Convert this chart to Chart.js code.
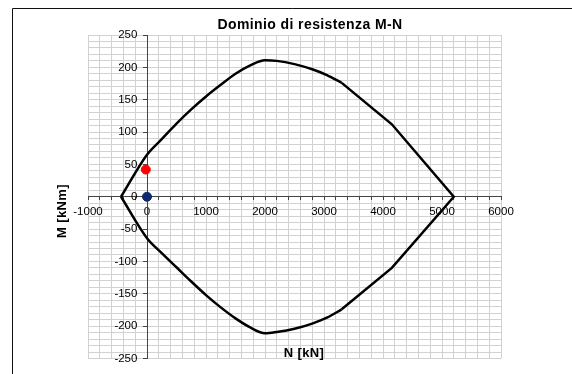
<!DOCTYPE html>
<html>
<head>
<meta charset="utf-8">
<script src="https://cdn.jsdelivr.net/npm/chart.js@4.4.1/dist/chart.umd.min.js"></script>
<style>
  html, body { margin: 0; padding: 0; background: #fff; }
</style>
</head>
<body>
<canvas id="myChart" width="572" height="374"></canvas>
<script>
// M-N interaction domain: two smooth arcs plus the straight right-hand part
const arcN = [-440, 0, 250, 500, 750, 1000, 1250, 1500, 1750, 2000, 2200, 2500, 2800, 3050, 3300];
const upperM = [0, 65, 89, 113, 135, 155, 173, 190, 203, 211, 210, 205, 197, 188, 176];
const lowerM = [0, -64, -87, -109, -131, -152, -171, -188, -202, -211, -209, -204, -196, -187, -174];
const rightN = [3300, 4150, 5200, 4150, 3300];
const rightM = [176, 112, 0, -110, -174];

// design loads
const loadN = [-20];
const loadM = [42];
const originN = [0];
const originM = [0];

const xTicks = [-1000, 0, 1000, 2000, 3000, 4000, 5000, 6000];
const yTicks = [-250, -200, -150, -100, -50, 0, 50, 100, 150, 200, 250];

const FONT = '"Liberation Sans", Arial, sans-serif';
Chart.defaults.font.family = FONT;

const toPoints = (xs, ys) => xs.map((x, i) => ({ x: x, y: ys[i] }));

const curveStyle = {
  showLine: true,
  borderColor: '#000',
  borderWidth: 2.5,
  pointRadius: 0,
  fill: false,
};

const frame = {
  id: 'frame',
  afterDraw(chart) {
    const ctx = chart.ctx;
    ctx.save();
    ctx.strokeStyle = '#111';
    ctx.lineWidth = 1;
    ctx.beginPath();
    ctx.moveTo(12.5, 374);
    ctx.lineTo(12.5, 8.5);
    ctx.lineTo(572, 8.5);
    ctx.stroke();

    ctx.fillStyle = '#000';
    ctx.textAlign = 'center';
    ctx.textBaseline = 'middle';
    ctx.font = 'bold 14px ' + FONT;
    ctx.letterSpacing = '0.4px';
    ctx.fillText('Dominio di resistenza M-N', 310, 25);

    ctx.font = 'bold 13px ' + FONT;
    ctx.fillText('N [kN]', 304, 353);

    ctx.translate(62, 211);
    ctx.rotate(-Math.PI / 2);
    ctx.fillText('M [kNm]', 0, 0);
    ctx.restore();
  },
};

new Chart(document.getElementById('myChart'), {
  type: 'scatter',
  data: {
    datasets: [
      Object.assign({ data: toPoints(arcN, upperM), cubicInterpolationMode: 'monotone' }, curveStyle),
      Object.assign({ data: toPoints(arcN, lowerM), cubicInterpolationMode: 'monotone' }, curveStyle),
      Object.assign({ data: toPoints(rightN, rightM), tension: 0 }, curveStyle),
      {
        data: toPoints(loadN, loadM),
        backgroundColor: '#ff0000',
        borderColor: '#ff0000',
        pointRadius: 4.5,
      },
      {
        data: toPoints(originN, originM),
        backgroundColor: '#0b2a6b',
        borderColor: '#0b2a6b',
        pointRadius: 4.5,
      },
    ],
  },
  options: {
    responsive: false,
    animation: false,
    layout: { padding: { left: 88, top: 35, right: 71, bottom: 15.5 } },
    plugins: {
      legend: { display: false },
      tooltip: { enabled: false },
      title: { display: false },
    },
    scales: {
      x: {
        type: 'linear',
        position: { y: 0 },
        min: -1000,
        max: 6000,
        ticks: {
          stepSize: 200,
          autoSkip: false,
          maxRotation: 0,
          maxTicksLimit: 100,
          padding: 5,
          color: '#000',
          font: { size: 11.5 },
          callback: (v) => (xTicks.includes(Math.round(v)) ? Math.round(v) : ''),
        },
        grid: { color: '#d2d2d2', tickLength: 3, tickColor: '#444' },
        border: { color: '#444', width: 1 },
      },
      y: {
        type: 'linear',
        position: { x: 0 },
        min: -250,
        max: 250,
        ticks: {
          stepSize: 10,
          autoSkip: false,
          maxTicksLimit: 100,
          color: '#000',
          font: { size: 11.5 },
          // trailing spaces keep the right-aligned labels clear of the axis line
          callback: (v) => (yTicks.includes(Math.round(v)) ? Math.round(v) + '   ' : ''),
        },
        grid: {
          color: '#d2d2d2',
          tickLength: 4,
          tickColor: (c) => (c.tick && yTicks.includes(Math.round(c.tick.value)) ? '#444' : 'rgba(0,0,0,0)'),
        },
        border: { color: '#444', width: 1 },
      },
    },
  },
  plugins: [frame],
});
</script>
</body>
</html>
